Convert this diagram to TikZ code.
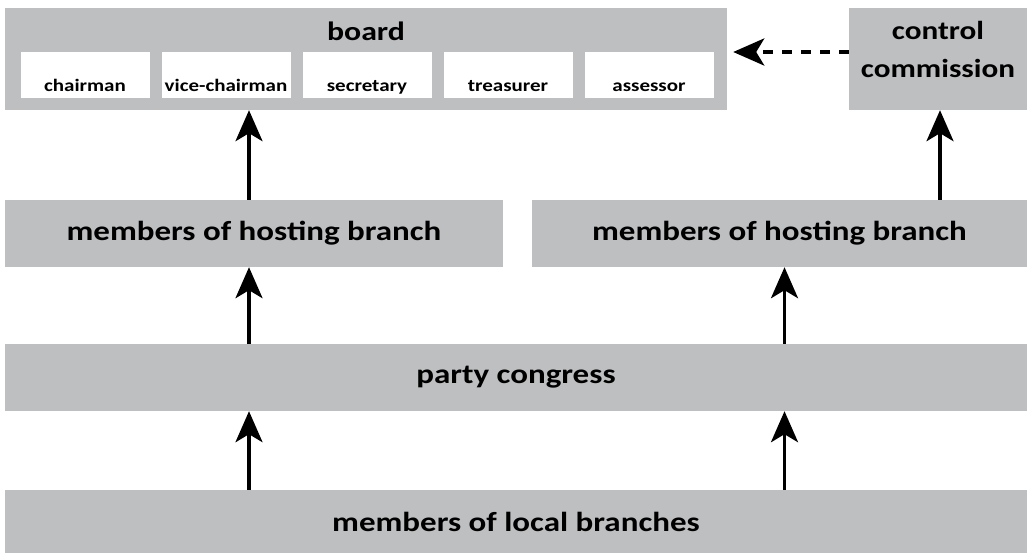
\documentclass[tikz,border=0pt]{standalone}
\usepackage{fontspec}
\setmainfont[FakeStretch=1.2]{Carlito}
\usepackage{tikz}
\usetikzlibrary{arrows.meta}
\usetikzlibrary{calc}
\usetikzlibrary{positioning}
\definecolor{panelgray}{RGB}{190,191,193}
\tikzstyle{panel}  = [
    fill=panelgray,
    inner sep=0pt,
    font=\bfseries\fontsize{27.5}{32}\selectfont
]
\tikzstyle{office}  = [
    fill=white,
    inner sep=0pt,
    minimum width=129pt,
    minimum height=46pt,
    text height=39pt,
    text depth=7pt,
    font=\bfseries\fontsize{17.5}{20}\selectfont
]
\tikzstyle{up}  = [
    draw,
    line width=3.5pt,
    -{Stealth[length=31pt,width=27pt,inset=8pt]}
]
\tikzstyle{feedback}  = [
    up,
    line width=4pt,
    dash pattern=on 10pt off 9pt
]

\begin{document}
\begin{tikzpicture}[x = 1pt, y=-1pt]

\useasboundingbox (0,0) rectangle (1032,555);

\node[panel, minimum width=722pt, minimum height=102pt] (board)   at (366,59)    {};
\node[panel, font=\bfseries\fontsize{26.5}{30}\selectfont, below=14pt of board.north] (boardname) {board};
\node[office] (chair)     at (85,75)  {chairman};
\node[office] (vicechair) at (226,75) {vice-chairman};
\node[office] (secr)      at (367,75) {secretary};
\node[office] (treas)     at (508,75) {treasurer};
\node[office] (assess)    at (649,75) {assessor};

\node[panel, minimum width=178pt, minimum height=102pt, align=center, text depth=19pt,
      font=\bfseries\fontsize{26}{38}\selectfont] (control) at (938,59) {control\\commission};

\node[panel, minimum width=498pt, minimum height=67pt]  (hostL)    at (254,233.5)  {members of hosting branch};
\node[panel, minimum width=495pt, minimum height=67pt]  (hostR)    at (779.5,233.5) {members of hosting branch};
\node[panel, minimum width=1022pt, minimum height=67pt] (congress) at (516,377.5)  {party congress};
\node[panel, minimum width=1022pt, minimum height=63pt] (local)    at (516,521.5)  {members of local branches};

\draw[up] ([xshift=-5pt]local.north -| hostL)     to ([xshift=-5pt]congress.south -| hostL);
\draw[up] ([xshift=5pt]local.north -| hostR)      to ([xshift=5pt]congress.south -| hostR);
\draw[up] ([xshift=-5pt]congress.north -| hostL)  to ([xshift=-5pt]hostL.south);
\draw[up] ([xshift=5pt]congress.north -| hostR)   to ([xshift=5pt]hostR.south);
\draw[up] ([xshift=-5pt]hostL.north)              to ([xshift=-5pt]hostL.north |- board.south);
\draw[up] ([xshift=2pt]hostR.north -| control)    to ([xshift=2pt]control.south);
\draw[feedback, shorten >=6pt] ([yshift=7pt]control.west) to ([yshift=7pt]board.east);

\end{tikzpicture}
\end{document}
